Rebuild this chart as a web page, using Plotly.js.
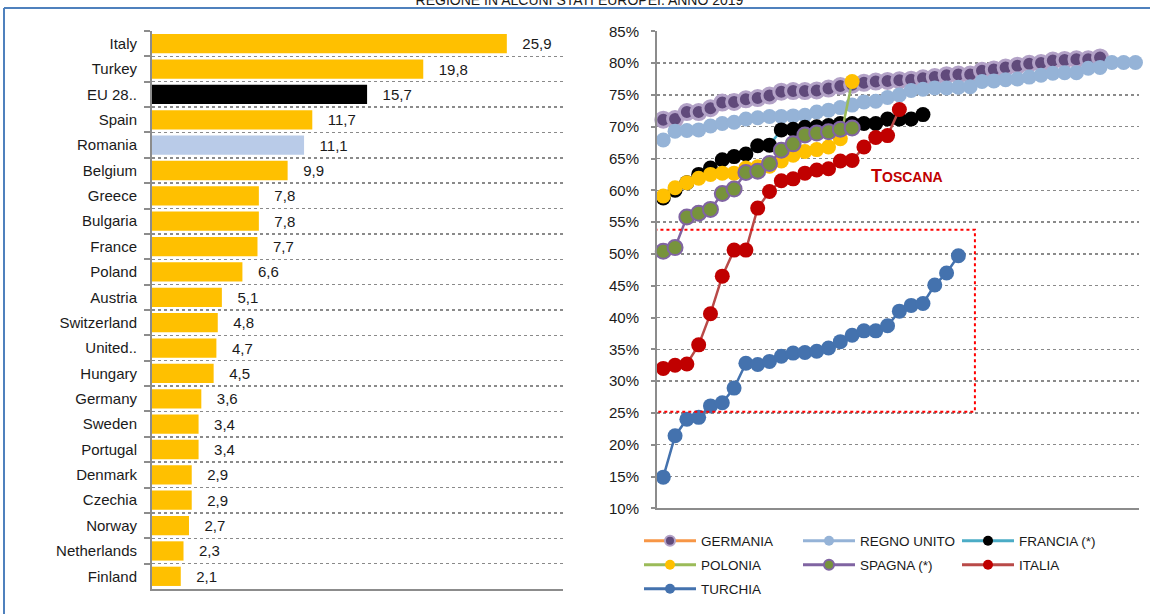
<!DOCTYPE html>
<html><head><meta charset="utf-8">
<script src="https://cdn.plot.ly/plotly-3.0.1.min.js"></script>
<style>html,body{margin:0;padding:0;background:#fff}#chart{width:1159px;height:614px}</style>
</head><body><div id="chart"></div>
<script>
// ---- Left chart data ----
const countries = ["Italy","Turkey","EU 28..","Spain","Romania","Belgium","Greece","Bulgaria","France","Poland","Austria","Switzerland","United..","Hungary","Germany","Sweden","Portugal","Denmark","Czechia","Norway","Netherlands","Finland"];
const rates = [25.9,19.8,15.7,11.7,11.1,9.9,7.8,7.8,7.7,6.6,5.1,4.8,4.7,4.5,3.6,3.4,3.4,2.9,2.9,2.7,2.3,2.1];

// ---- Right chart data (regions sorted, %) ----
const germania = [71.1,71.2,72.3,72.3,72.9,73.8,73.9,74.3,74.5,74.9,75.5,75.6,75.6,75.7,76.0,76.4,76.6,76.9,77.1,77.2,77.3,77.4,77.6,77.8,78.1,78.2,78.2,78.8,79.0,79.3,79.6,79.9,80.0,80.4,80.5,80.6,80.6,80.9];
const regnoUnito = [67.9,69.3,69.4,69.5,70.1,70.5,70.7,71.2,71.4,71.6,71.6,71.7,71.8,72.3,72.6,73.0,73.4,73.9,74.0,74.6,75.0,75.7,75.9,76.1,76.1,76.2,76.3,77.1,77.2,77.4,77.5,77.8,78.1,78.4,78.5,78.5,79.2,79.3,80.1,80.1,80.1];
const francia = [58.8,60.0,61.2,62.5,63.5,64.8,65.3,65.7,67.0,67.1,69.5,69.6,69.9,70.0,70.2,70.5,70.5,70.5,70.5,71.2,71.2,71.2,71.9];
const polonia = [59.1,60.4,61.2,61.9,62.5,62.7,62.7,63.5,63.7,63.8,64.6,65.5,66.1,66.4,66.8,68.1,77.1];
const spagna = [50.4,51.0,55.8,56.4,57.0,59.5,60.2,62.8,63.0,64.2,66.3,67.3,68.7,69.0,69.2,69.6,69.8];
const italia = [32.0,32.5,32.7,35.7,40.6,46.5,50.6,50.6,57.2,59.8,61.5,61.8,62.7,63.2,63.4,64.6,64.7,66.8,68.3,68.6,72.7];
const turchia = [14.9,21.4,24.0,24.3,26.1,26.6,28.9,32.8,32.6,33.1,33.9,34.4,34.5,34.7,35.2,36.2,37.2,37.9,37.9,38.7,41.0,41.9,42.2,45.1,47.0,49.7];
const seriesNames = ["GERMANIA","REGNO UNITO","FRANCIA (*)","POLONIA","SPAGNA (*)","ITALIA","TURCHIA"];

const W = 1159, H = 614;
const px = v => v / W, py = v => 1 - v / H;

const barColors = countries.map(c => c === "EU 28.." ? "#000000" : (c === "Romania" ? "#B9CBE8" : "#FFC000"));
const barText = rates.map(v => "\u00A0\u00A0\u00A0" + v.toFixed(1).replace(".", ","));

const idx = arr => arr.map((_, i) => i + 1);

const styles = [
  {line: "#F79646", mk: "#604A7B", ml: "#B3A2C7", mlw: 3, leg: "legend"},
  {line: "#95B3D7", mk: "#95B3D7", ml: "#95B3D7", mlw: 0, leg: "legend"},
  {line: "#4BACC6", mk: "#000000", ml: "#000000", mlw: 0, leg: "legend"},
  {line: "#9BBB59", mk: "#FFC000", ml: "#FFC000", mlw: 0, leg: "legend2"},
  {line: "#8064A2", mk: "#77933C", ml: "#8064A2", mlw: 2, leg: "legend2"},
  {line: "#B94A48", mk: "#C00000", ml: "#C00000", mlw: 0, leg: "legend2"},
  {line: "#4472AE", mk: "#4472AE", ml: "#4472AE", mlw: 0, leg: "legend3"}
];
const seriesData = [germania, regnoUnito, francia, polonia, spagna, italia, turchia];

const traces = [];
traces.push({
  type: "bar", orientation: "h", x: rates, y: countries, xaxis: "x", yaxis: "y",
  marker: {color: barColors}, text: barText, textposition: "outside", cliponaxis: false,
  textfont: {size: 15, color: "#1a1a1a", family: "Liberation Sans, Arial, sans-serif"},
  showlegend: false, hoverinfo: "skip"
});
seriesData.forEach((d, i) => {
  const s = styles[i];
  traces.push({
    type: "scatter", mode: "lines+markers", x: idx(d), y: d, xaxis: "x2", yaxis: "y2",
    line: {color: s.line, width: 2.5},
    marker: {size: 15, color: s.mk, line: {color: s.ml, width: s.mlw}},
    showlegend: false, cliponaxis: false, hoverinfo: "skip"
  });
});
// legend entries
seriesData.forEach((d, i) => {
  const s = styles[i];
  traces.push({
    type: "scatter", mode: "lines+markers", x: [null], y: [null], xaxis: "x2", yaxis: "y2",
    name: seriesNames[i], legend: s.leg,
    line: {color: s.line, width: 3},
    marker: {size: 10, color: s.mk, line: {color: s.ml, width: s.mlw ? 2 : 0}},
    showlegend: true
  });
});

const legBase = {
  orientation: "h", x: px(639), xanchor: "left", yanchor: "middle",
  entrywidth: 92, entrywidthmode: "pixels", itemwidth: 52, traceorder: "normal",
  font: {size: 13.5, color: "#1a1a1a"}, bgcolor: "rgba(0,0,0,0)", tracegroupgap: 0
};

const gridCol = "#8a8a8a", axCol = "#8c8c8c";
const layout = {
  width: W, height: H,
  margin: {l: 0, r: 0, t: 0, b: 0},
  paper_bgcolor: "#fff", plot_bgcolor: "rgba(0,0,0,0)",
  font: {family: "Liberation Sans, Arial, sans-serif", color: "#1a1a1a"},
  title: {text: "REGIONE IN ALCUNI STATI EUROPEI. ANNO 2019", x: 0.5, xanchor: "center", xref: "paper", y: 1.003, yanchor: "middle", yref: "container", font: {size: 14, color: "#1a1a1a"}},
  showlegend: true,
  bargap: 0.24,
  xaxis: {domain: [px(152), px(563)], range: [0, 30], anchor: "y", showgrid: false, zeroline: false,
          showticklabels: false, ticks: "", showline: true, linecolor: axCol, linewidth: 2, fixedrange: true},
  yaxis: {domain: [py(589), py(31)], anchor: "x", type: "category", categoryorder: "array", categoryarray: countries,
          autorange: "reversed", tickson: "boundaries", ticks: "outside", ticklen: 6, tickwidth: 2, tickcolor: axCol,
          showgrid: true, gridcolor: gridCol, griddash: "dot", gridwidth: 1.5,
          showline: true, linecolor: axCol, linewidth: 2, zeroline: false,
          ticklabelstandoff: 10, tickfont: {size: 15, color: "#1a1a1a"}},
  xaxis2: {domain: [px(657), px(1139)], range: [0.47, 41.3], anchor: "y2", showgrid: false, zeroline: false,
           showticklabels: false, ticks: "", showline: true, linecolor: axCol, linewidth: 2},
  yaxis2: {domain: [py(508.3), py(31.3)], anchor: "x2", range: [10, 85], dtick: 5, tick0: 10, ticksuffix: "%",
           ticks: "outside", ticklen: 4, tickwidth: 2, tickcolor: axCol,
           showgrid: true, gridcolor: gridCol, griddash: "dot", gridwidth: 1.5,
           showline: true, linecolor: axCol, linewidth: 2, zeroline: false,
           ticklabelstandoff: 9, tickfont: {size: 15, color: "#1a1a1a"}},
  legend: Object.assign({}, legBase, {y: py(541)}),
  legend2: Object.assign({}, legBase, {y: py(565)}),
  legend3: Object.assign({}, legBase, {y: py(589)}),
  shapes: [
    {type: "rect", xref: "x2", yref: "y2", x0: 0.07, x1: 27.4, y0: 25.2, y1: 53.8,
     line: {color: "#FF0000", width: 2, dash: "dot"}, fillcolor: "rgba(0,0,0,0)"},
    {type: "line", xref: "paper", yref: "paper", x0: px(4), x1: px(1150), y0: py(8), y1: py(8), line: {color: "#4F81BD", width: 2}},
    {type: "line", xref: "paper", yref: "paper", x0: px(4), x1: px(4), y0: py(8), y1: 0, line: {color: "#4F81BD", width: 2}}
  ],
  annotations: [
    {xref: "x2", yref: "y2", x: 18.4, y: 62.3, xanchor: "left", yanchor: "middle", showarrow: false,
     text: "<b>T<span style='font-size:14px'>OSCANA</span></b>",
     font: {size: 18, color: "#C00000", family: "Liberation Sans, Arial, sans-serif"}}
  ]
};

Plotly.newPlot("chart", traces, layout, {displayModeBar: false, staticPlot: true});
</script>
</body></html>
